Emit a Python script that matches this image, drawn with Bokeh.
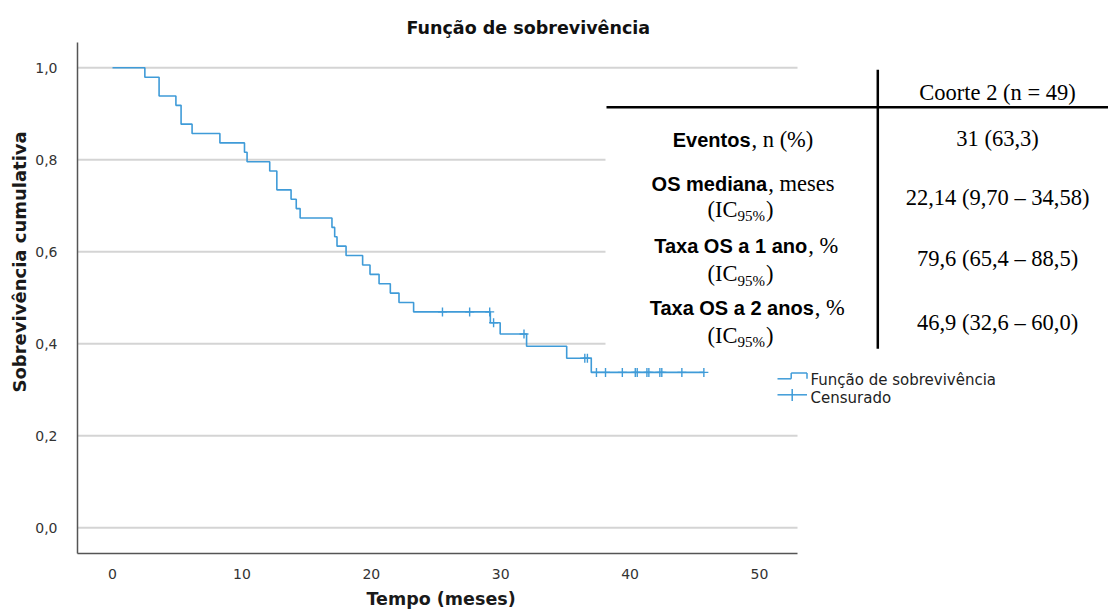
import numpy as np
from bokeh.plotting import figure
from bokeh.models import Label, Arrow, BoxAnnotation, Range1d, FixedTicker, CustomJSTickFormatter, Title
from bokeh.embed import file_html
from bokeh.resources import INLINE

# Cohort 2 follow-up, months (n = 49): deaths and censored patients
event_times = [2.5, 3.6, 3.6, 4.9, 5.3, 5.3, 6.15, 8.3, 10.2, 10.4, 12.15, 12.7, 12.7,
               13.8, 14.2, 14.5, 16.96, 17.17, 17.35, 18.05, 19.33, 19.9, 20.6, 21.47,
               22.14, 23.27, 29.2, 29.96, 32.0, 35.1, 37.0]
censor_times = [25.5, 27.6, 29.15, 29.45, 31.8, 36.5, 36.7, 37.4, 38.1, 39.4, 40.4,
                40.55, 41.3, 41.45, 42.3, 42.45, 44.0, 45.7]

x_ticks = [0, 10, 20, 30, 40, 50]
y_ticks = [0.0, 0.2, 0.4, 0.6, 0.8, 1.0]

table_header = "Coorte 2 (n = 49)"
row_bold = ["Eventos", "OS mediana", "Taxa OS a 1 ano", "Taxa OS a 2 anos"]
row_plain = [", n (%)", ", meses", ", %", ", %"]
row_values = ["31 (63,3)", "22,14 (9,70 \u2013 34,58)", "79,6 (65,4 \u2013 88,5)", "46,9 (32,6 \u2013 60,0)"]

# Kaplan-Meier estimate
ev = np.array(event_times)
ce = np.array(censor_times)
all_t = np.concatenate([ev, ce])
uniq = np.unique(ev)
surv = []
s = 1.0
for t in uniq:
    d = np.sum(ev == t)
    n = np.sum(all_t >= t)
    s *= 1.0 - d / n
    surv.append(s)
step_x = [0.0] + list(uniq) + [float(all_t.max())]
step_y = [1.0] + surv + [surv[-1]]


def surv_at(t):
    val = 1.0
    for tt, sv in zip(uniq, surv):
        if tt <= t:
            val = sv
    return val


censor_y = [surv_at(c) for c in censor_times]

# page geometry: frame covers x 77..1108, y 42..553 (pixels)
W, H = 1108, 615
FL, FT, FB = 77, 42, 553
PX0, KX = 112.0, 12.94      # pixel of x = 0, pixels per month
PY0, KY = 527.3, 460.0      # pixel of y = 0, pixels per unit survival
AXIS_END = 797


def dx(px):
    return (px - PX0) / KX


def dy(py):
    return (PY0 - py) / KY


BLUE = "#3f9bd8"

p = figure(width=W, height=H, output_backend="svg", toolbar_location=None,
           x_range=Range1d(dx(FL), dx(W)), y_range=Range1d(dy(FB), dy(FT)),
           min_border_left=FL, min_border_right=0, min_border_top=FT,
           min_border_bottom=H - FB)
p.outline_line_color = None
p.background_fill_color = "white"

p.title.text = "Fun\u00e7\u00e3o de sobreviv\u00eancia"
p.title.align = "left"
p.title.offset = 406 - FL
p.title.text_font = "DejaVu Sans"
p.title.text_font_style = "bold"
p.title.text_font_size = "17.5px"
p.title.text_color = "#111111"
p.title.standoff = 10

p.xgrid.grid_line_color = None
p.ygrid.grid_line_color = None

for ax in (p.xaxis[0], p.yaxis[0]):
    ax.axis_line_color = "#555555"
    ax.axis_line_width = 1.5
    ax.major_tick_line_color = None
    ax.minor_tick_line_color = None
    ax.major_label_text_font = "DejaVu Sans"
    ax.major_label_text_font_size = "14px"
    ax.major_label_text_color = "#333333"

p.xaxis.bounds = (dx(FL), dx(AXIS_END))
p.xaxis.ticker = FixedTicker(ticks=x_ticks)
p.yaxis.ticker = FixedTicker(ticks=y_ticks)
p.yaxis.formatter = CustomJSTickFormatter(code="return tick.toFixed(1).replace('.', ',');")
p.xaxis.major_label_standoff = 9
p.yaxis.major_label_standoff = 14

# axis titles
p.add_layout(Title(text="Sobreviv\u00eancia cumulativa", align="left", offset=FB - 392,
                   text_font="DejaVu Sans", text_font_style="bold", text_font_size="18px",
                   text_color="#1a1a1a", standoff=6), "left")
p.add_layout(Title(text="Tempo (meses)", align="left", offset=366 - FL,
                   text_font="DejaVu Sans", text_font_style="bold", text_font_size="17.5px",
                   text_color="#1a1a1a", standoff=10), "below")

# horizontal reference lines at the y ticks
n_t = len(y_ticks)
p.segment(x0=[dx(FL)] * n_t, y0=y_ticks, x1=[dx(AXIS_END)] * n_t, y1=y_ticks,
          line_color="#d4d4d4", line_width=2)

# survival curve and censoring marks
p.step(step_x, step_y, mode="after", line_color=BLUE, line_width=1.6)
p.scatter(censor_times, censor_y, marker="cross", size=9, line_color=BLUE, line_width=1.4)

# summary table panel
p.add_layout(BoxAnnotation(left=dx(605), right=dx(W + 5), top=dy(69), bottom=dy(351),
                           fill_color="white", fill_alpha=1.0, line_color=None))


def seg(x0, y0, x1, y1, color="black", width=2.5):
    p.add_layout(Arrow(end=None, x_start=dx(x0), y_start=dy(y0), x_end=dx(x1), y_end=dy(y1),
                       line_color=color, line_width=width))


seg(606, 106.7, W + 5, 106.7)
seg(877.3, 69.3, 877.3, 348.3)

SERIF = "Liberation Serif"
SANS = "Liberation Sans"
VAL_X = 997


def txt(x, base, text, font, size, align="center", style="normal", color="black", descent=0.215):
    # labels are anchored at the bottom of the text box, so lift by the font descent
    p.add_layout(Label(x=dx(x), y=dy(base - descent * size), text=text, text_align=align,
                       text_baseline="alphabetic", text_font=font,
                       text_font_style=style, text_font_size=f"{size}px", text_color=color))


txt(VAL_X, 97, table_header, SERIF, 22.5)

split_x = [750, 766.7, 806.7, 813.3]
label_base = [143.5, 187.7, 250, 311.7]
ic_base = [None, 214, 278.3, 340]
value_base = [143, 201.7, 263.3, 326.7]

for i in range(4):
    txt(split_x[i], label_base[i], row_bold[i], SANS, 20, align="right", style="bold")
    txt(split_x[i] + 1, label_base[i], row_plain[i], SERIF, 22.5, align="left")
    txt(VAL_X, value_base[i], row_values[i], SERIF, 22.5)
    if ic_base[i] is not None:
        txt(737, ic_base[i], "(IC", SERIF, 22.5, align="right")
        txt(737, ic_base[i] + 5, "95%", SERIF, 15, align="left")
        txt(765.5, ic_base[i], ")", SERIF, 22.5, align="left")

# legend
seg(777, 378.3, 790.7, 378.3, BLUE, 1.5)
seg(790.7, 378.3, 790.7, 372.5, BLUE, 1.5)
seg(790.7, 372.5, 806.5, 372.5, BLUE, 1.5)
seg(806.5, 372.5, 806.5, 378.3, BLUE, 1.5)
seg(777, 394.3, 806.5, 394.3, BLUE, 1.5)
seg(791.7, 388.5, 791.7, 400.5, BLUE, 1.5)
txt(810, 383.5, "Fun\u00e7\u00e3o de sobreviv\u00eancia", "DejaVu Sans", 15, align="left",
    color="#222222", descent=0.236)
txt(810, 401.5, "Censurado", "DejaVu Sans", 15, align="left", color="#222222", descent=0.236)

open("out.html", "w").write(file_html(p, INLINE))
